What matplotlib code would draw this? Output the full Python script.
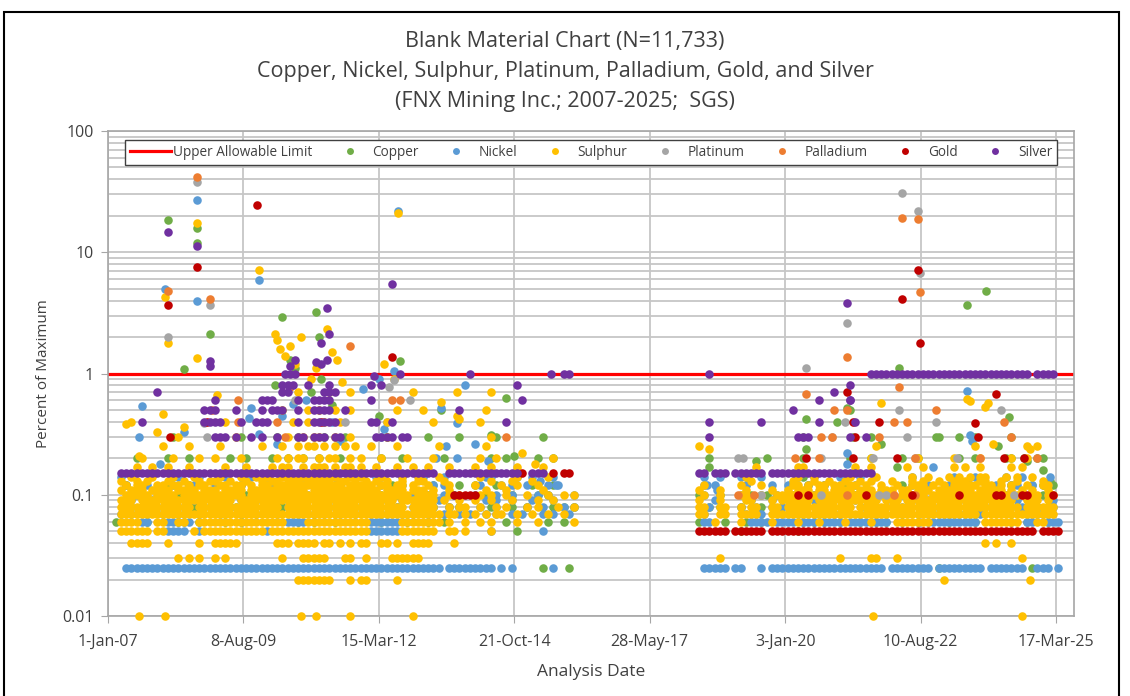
import matplotlib
matplotlib.use("Agg")
import matplotlib.pyplot as plt
import matplotlib.dates as mdates
from matplotlib.ticker import FixedLocator, LogLocator, NullFormatter, FuncFormatter
from matplotlib.lines import Line2D
from matplotlib.patches import Rectangle
from datetime import datetime

plt.rcParams['font.family'] = ['Open Sans', 'DejaVu Sans']

# ---------------------------------------------------------------
# Data.
# Rows: one string per reported value; every group of 10 characters
# is one year (tenths of a year), "@YYYY" jumps to that year,
# any character other than "." marks a result in that tenth.
# Extras: single (year, percent) results.
# ---------------------------------------------------------------

upper_limit = 1.0

copper_levels = [0.025, 0.05, 0.06, 0.08, 0.1, 0.12, 0.2, 0.3]
copper_rows = [
    "@2015 ...x....x. @2022 .........x .......... .......x..",
    "@2014 ........x. @2019 .x........ ..x.......",
    "@2007 .x.....x.. ...x...x.. ..x..x.... ......x..x ...x...... ..x....x.. .x..x..... ......x... ....x..x.. @2018 ...x....x. ..x..x.... ...x.x.x.. x...x..x.x ..x..x.... .x....x... ...x..x... x",
    "@2007 ....x..x.. ..x...x... .x..x..... ...x..x... x....x..x. .x...x.... ..x..x.x.. ...x...x.. x....x.x.x @2018 .....x.x.. .x...x.... ..x....x.. .x...x.x.. ...x...x.. ..x...x... .x..x...x. x",
    "@2007 ......x... x..x...... ...x..x... .x...x.x.. ..x.x..... ..x..x.... .x....x... ..x....x.. ..x.x..... @2018 ...x...x.. ...x..x... .x...x.... ...x..x... x...x..... ....x..x.. ..x..x...x x",
    "@2007 ...x...... .x...x.... .....x.... ..x...x... .x..x....x ....x..... ..x....x.. x...x..... .x...x.... @2018 .......... ..x....... ....x..x.. .x........ ..x...x... ...x...... ...x...x.x x",
    "@2007 .....x.... .x...x.... ...x..x... .x..x..x.. x...x..... ..x...x... ....x..... ...x..x... ..x..x.... @2018 .....x.... ......x... ...x...... ..x...x... ..x..x.... ...x..x... ..xx....xx",
    "@2007 .......... ..x....... .....x.... ..x...x... .x...x.... ...x...... .x.....x.. ....x..... ...x...... @2018 .......... .......... ...x...... ......x... .........x ...x..x... ...x......",
]
copper_extra = [
    (2008.15, 18.4), (2008.7, 16), (2008.7, 11.9), (2008.95, 2.1), (2008.45, 1.08),
    (2010.35, 2.95), (2011.0, 3.2), (2011.05, 2.0), (2012.6, 1.26), (2010.6, 1.1),
    (2010.2, 0.8), (2011.1, 0.9), (2013.4, 0.5), (2014.65, 0.63), (2014.35, 0.31),
    (2014.8, 0.21), (2022.2, 1.12), (2023.5, 3.7), (2023.87, 4.8), (2021.2, 0.52),
    (2021.25, 0.5), (2020.4, 0.42), (2020.4, 0.24), (2021.0, 0.4), (2021.3, 0.3),
    (2021.85, 0.26), (2022.9, 0.3), (2024.3, 0.44), (2024.1, 0.25), (2025.1, 0.13),
    (2025.15, 0.12), (2024.95, 0.16), (2018.55, 0.17), (2019.45, 0.19), (2020.3, 0.15),
    (2020.35, 0.14), (2022.15, 0.17), (2024.6, 0.2), (2024.65, 0.19), (2010.5, 1.3),
    (2010.9, 0.7), (2011.3, 0.55), (2012.2, 0.45),
]

nickel_levels = [0.025, 0.05, 0.06, 0.07, 0.08, 0.09, 0.1, 0.12, 0.14]
nickel_rows = [
    "@2007 ...xxxxxxx xxxxxxxxxx xxxxxxxxxx xxxxxxxxxx xxxxxxxxxx xxxxxxxxxx xxxx.xxxxx xxxx.x.x.. .....x.... @2018 ....xxxxx. xx...x.xxx xxxxxxxxxx xxxxxxxxx. xxxxxxxx.x xxxxxxxx.x xxxxxx..xx x.x",
    "@2007 .......... .xxxx..x.. .......... x......... .......... xxxxxx.... @2014 ...x...... ...x......",
    "@2007 ......xx.. .xx.xx.... .......... ....xxxx.. .......... xxxxxx.... @2018 ....xx.... ...xxxx.xx xx.xxx.xxx x.xxxxxxxx .......xxx xxxxxxx... ......xx.. xxx",
    "@2007 ..x.x..x.. x..x...x.. .x...x..x. ..x..x...x .x..x..x.. x..x..x.x. .x..x..x.x ..x.x..x.x ...x.x..x. @2018 ....x..... ..xxxx.... ..x...x..x x...x..x.. .........x xxxxxxxx.. .......xxx x",
    "@2007 ...x..x..x .x..x...x. x..x..x... .x..x..x.. x..x..x..x .x...x..x. ..x..x.x.. .x..x..... x..x...x.x @2018 .....x.... .x..x..x.x ...x...x.. .x...x...x ..x.....x. .xx..x..x. ..x..x..x. .x",
    "@2007 ....x...x. ..x...x... .x...x..x. x...x..... ..x...x..x ...x..x... x..x...... ..x.x..x.. .x...x.... @2018 ......x... ...x...x.. .x...x..x. ...x..x... x...x..x.. ...x..x... x...x..x.. .x",
    "@2007 .....x.... x....x...x ..x....x.. ..x..x..x. .x...x.... x...x...x. .x..x.x... x...x..x.. ..x.x....x @2018 ....x..... .x...x..x. ..x..x...x .x...x.... ..x..x.... x..x...x.. ..x..x.x.. x",
    "@2007 ...x...x.. ..x...x... x....x.... .x..x..x.. x..x...x.. ..x...x... ..x.x..... .x...x.x.. x...x.x... @2018 ....x.x... ..x....x.. x...x..x.. ...x...... ....x..x.. .x...x.... x..xx..x.. x",
    "@2007 ..x....... ...x...x.. ..x....x.. x...x...x. ...x...x.. .x....x... x...x..... ..xx....x. .x...x.... @2018 ....x..x.. .x...x.... ..x..x.... x...x..... ....x..... ..x...x... ..x..x....",
]
nickel_extra = [
    (2008.1, 5.0), (2008.7, 27), (2008.7, 4.0), (2009.9, 5.9), (2012.57, 21.8),
    (2007.6, 0.3), (2007.65, 0.54), (2008.45, 0.33), (2008.0, 0.18), (2009.7, 0.43),
    (2009.75, 0.52), (2009.9, 0.32), (2010.25, 0.26), (2010.55, 0.56), (2011.3, 0.4),
    (2011.45, 0.28), (2012.3, 0.35), (2012.35, 0.4), (2012.25, 0.3), (2013.3, 0.2),
    (2013.4, 0.52), (2013.5, 0.25), (2013.7, 0.39), (2013.7, 0.2), (2014.05, 0.26),
    (2014.3, 0.19), (2015.3, 0.13), (2015.6, 0.12), (2018.5, 0.12), (2018.7, 0.11),
    (2021.2, 0.22), (2021.2, 0.18), (2022.85, 0.17), (2023.5, 0.72), (2023.55, 0.31),
    (2023.6, 0.28), (2023.55, 0.12), (2025.1, 0.14), (2010.35, 0.45), (2010.8, 0.6),
    (2011.9, 0.75), (2012.2, 0.9), (2013.85, 0.8), (2012.5, 1.05),
]

sulphur_levels = [0.02, 0.03, 0.04, 0.05, 0.06, 0.07, 0.08, 0.09, 0.1, 0.11,
                  0.12, 0.13, 0.14, 0.17, 0.2, 0.25, 0.3, 0.4, 0.5, 0.7]
sulphur_rows = [
    "@2010 ......xxxx xxx...x.xx .....x....",
    "@2008 ...x.x.x.. x.x....... ...x...xxx xx...xx..x ....xxxxxx @2018 .......x.. .......... .......... x.....xx.. .x........ .......... .....x....",
    "@2007 ....xxxx.. .x.....x.. xxxxx..... ..xxx.xxxx .xx.x.x.xx ..xx.x..xx xx....x... @2023 ........x. x..x......",
    "@2007 ..xxxxxx.x x.....x.xx xxxxxxxxxx .xxxxxxxxx xxxxxxxxxx ......xxxx xxx..xx.x. ...x......",
    "@2007 ..xxxx...x x..xx..xxx xxxxxxxxxx xxxx....xx xxxxxxxxxx ......xxxx xxxx.x..x. .x.x....x. ..x......x @2018 ......x... .x.....x.. ..x...x... .x....x... .xxxxxxx.. ........xx xxxxx...xx",
    "@2007 ..xxxxxxxx xxxxxxxxxx xxxxxxxxxx xxxxxxxxxx xxxxxxxxxx xxxxxxxxxx xxxx.xx.x. x.x.xx..x. .x..x..x.. @2018 ...xx..xx. .xxxx..xxx xxxxxxxxxx xxxxxxxxxx xxxxxxxxxx xxxxxxx.xx xxxxxxxxxx xx",
    "@2007 ..xxxxxxxx xxxxxx.xxx xxxxxxxxxx xxx.xxxxxx xxxxxxxxxx xxxxxxx.xx xxx..x.xx. .x..x.x... x.x...x..x @2018 ...xx..xx. .x.xx..xx. xxxxxxxxxx xxx.xxxxxx xxxxxxxxxx xxxxxxxxxx xxxxx.xxxx xx",
    "@2007 ..xxx.xxxx xxxxxxxxxx xxxx.xxxxx xxxxxxxxxx xxxxxxxxxx xxxxx.xxxx xxx.x..x.. x..x...x.. ..x..x.... @2018 ...x...x.. ..xx...x.x xxxxx.xxxx xxxxxxxx.x xx.xxxxxxx xxxxxxxxxx xxxx..xxx. x",
    "@2007 ...xxxxx.x xxx.xxxxxx xxxxxx.xxx xxxxxxxxxx xxxxxxxxxx xxxxxxxx.x xxx..x.x.. .x.x..x... x...x..x.x @2018 ....x..x.. .xx..x..xx xx.xxxxxxx xxxxx.xxxx x.xxxxx.xx xxx.xxxxxx x.xxxx.xx. xx",
    "@2007 ..x.xxx.xx xx.xxxx.xx x.xxxx.xxx xxxxxxxx.x xxxxxxxxxx xx.xxxx.xx x.x..x.... ..x...x... ...x...... @2018 ...x...x.. ..x....x.. x.xxx.xx.x xxx.xxx.xx x.xx.xxx.x xxxxxx.xxx xx.x.x.x.. x",
    "@2007 ...x.xx..x x.xx.x.xx. .xx.xx.x.x x.xxxxxxxx xxxxx.xxxx x.xx.xx.x. .x...x.... x....x..x. ..x....... @2018 ....x..... .x...x.... .xx.x.xx.x x.xx.x..x. .x..xxx.x. x.xxxxx.xx .x.x..x..x x",
    "@2007 ..x..x.x.. .x..x..x.x x..x..x..x .xx.xxx.xx xxx.xx.x.x .x.x..x..x x...x..... ...x...x.. .x........ @2018 .......... ...x...... .x...x..x. .x..x.x... x...x.x..x ..xxx..xx. .x..x....x",
    "@2007 ....x...x. ..x...x... .x...x..x. x..xx.xx.x x.xx..x.x. ..x...x..x ...x...... .x......x. ....x..... @2018 .......... ..x....... ..x..x.... ..x....x.. ....x..x.. .x.x.x.xx. ..x.x..x..",
    "@2007 .....x..x. .x...x.... ..x...x... .x.xx..x.x xx.x.xx.x. .x...x..x. .x...x.... x..x....x. ...x...... @2018 .......... ....x..... ..xx...... ...x..x... ...x..x... ..x.x..x.. ...x.x....",
    "@2007 ......x... ..x....x.. x....x.... ..x.x.xx.. x.xx..x.x. ..x....x.. ..x....... .x..x..... .....x.... @2018 .......... .......... .......... ......x... .....x.... ..x....x.. ...x..x...",
    "@2007 .......... x....x.... .x.......x ...x..x.xx .x.x.x.x.. x....x.... ...x...... ..x....... @2018 ...x...... .......... .......... .......x.. .......... ......x... ......x.x.",
    "@2007 .......... ...x...... ....x..... ....x..x.x x..x..x... ...x...... .......... ...x......",
    "@2007 ....x..... .......... ..x....... .....x..x. .x..x..... ...x...... ..x....... .x........",
    "@2010 ...x....x. x..x..x... .....x.... x......... ..x.......",
    "@2010 ......x... ..x...x... ........x. .......... ...x......",
]
sulphur_extra = [
    (2007.6, 0.01), (2008.1, 0.01), (2010.7, 0.01), (2011.0, 0.01), (2011.65, 0.01),
    (2012.85, 0.01), (2021.7, 0.01), (2024.55, 0.01), (2023.05, 0.02), (2024.7, 0.02),
    (2008.1, 4.3), (2008.15, 1.8), (2008.7, 17.4), (2008.7, 1.33), (2009.9, 7.1),
    (2012.57, 21), (2012.3, 1.19), (2010.2, 2.1), (2010.25, 1.9), (2010.3, 1.6),
    (2010.4, 1.4), (2010.5, 1.7), (2010.6, 1.2), (2010.7, 2.0), (2011.3, 1.5),
    (2011.4, 1.3), (2011.2, 2.35), (2011.0, 1.1), (2010.9, 0.9), (2011.5, 0.85),
    (2012.5, 0.9), (2013.4, 0.58), (2013.7, 0.7), (2013.7, 0.45), (2013.75, 0.42),
    (2007.35, 0.38), (2008.05, 0.46), (2009.1, 0.66), (2008.45, 0.36), (2007.95, 0.33),
    (2007.6, 0.21), (2018.55, 0.24), (2021.85, 0.57), (2023.5, 0.62), (2023.55, 0.59),
    (2023.85, 0.53), (2023.9, 0.57), (2024.0, 0.26), (2024.7, 0.24), (2014.95, 0.22),
    (2015.2, 0.18),
]

platinum_extra = [
    (2008.15, 2.0), (2008.7, 38), (2008.95, 3.7), (2008.85, 0.39), (2008.9, 0.3),
    (2010.6, 0.6), (2011.55, 0.4), (2012.5, 0.89), (2012.4, 0.78), (2012.8, 0.6),
    (2019.1, 0.2), (2019.2, 0.2), (2019.55, 0.1), (2020.4, 1.1), (2020.7, 0.1),
    (2020.7, 0.2), (2020.9, 0.3), (2021.15, 0.4), (2021.2, 2.6), (2021.7, 0.2),
    (2021.8, 0.1), (2021.95, 0.1), (2022.24, 31), (2022.55, 22), (2022.6, 6.8),
    (2022.2, 0.5), (2022.35, 0.3), (2022.5, 0.2), (2022.9, 0.4), (2023.3, 0.2),
    (2024.15, 0.5), (2024.4, 0.1),
]

palladium_extra = [
    (2008.15, 4.8), (2008.7, 42), (2008.95, 4.1), (2009.0, 0.5), (2009.5, 0.61),
    (2009.5, 0.4), (2010.25, 0.4), (2010.4, 0.3), (2010.5, 0.78), (2011.65, 1.67),
    (2012.45, 0.6), (2012.6, 0.6), (2014.65, 0.3), (2019.1, 0.1), (2019.4, 0.1),
    (2020.2, 0.2), (2020.4, 0.68), (2020.65, 0.2), (2020.7, 0.3), (2020.9, 0.3),
    (2020.95, 0.5), (2021.2, 1.36), (2021.2, 0.5), (2021.2, 0.1), (2021.8, 0.3),
    (2022.1, 0.4), (2022.1, 0.1), (2022.2, 0.78), (2022.24, 19), (2022.35, 0.4),
    (2022.5, 0.2), (2022.5, 0.1), (2022.55, 18.8), (2022.6, 4.7), (2022.9, 0.5),
    (2023.75, 0.2), (2024.2, 0.4), (2024.35, 0.3), (2024.85, 0.2),
]

gold_levels = [0.05, 0.1, 0.15]
gold_rows = [
    "@2018 ...xxxxxx. xxxxxx.xxx xxxxxxxxxx xxxxxxxxxx xxxxxxxxxx xxxxxxxxxx xxxxxxxx.x xxx",
    "@2013 ......xxxx x......... @2020 ..x.x..... .....x.... ....x..... ...x...... xx...xx... .x",
    "@2014 .........x .....x.xx.",
]
gold_extra = [
    (2008.15, 3.7), (2008.7, 7.5), (2009.87, 24.5), (2012.45, 1.36), (2008.2, 0.3),
    (2008.9, 0.4), (2011.1, 0.4), (2020.4, 0.2), (2021.2, 0.7), (2021.3, 0.4),
    (2021.35, 0.3), (2021.3, 0.2), (2021.8, 0.4), (2022.15, 0.2), (2022.24, 4.1),
    (2022.55, 7.2), (2022.6, 1.8), (2023.65, 0.39), (2023.7, 0.3), (2024.05, 0.68),
    (2024.2, 0.2), (2024.6, 0.2),
]

silver_levels = [0.15, 1.0, 0.3, 0.4, 0.5, 0.6, 0.7, 0.8]
silver_rows = [
    "@2007 ..xxxxxxxx xxxxxxxxxx xxxxxxxxxx xxxxxxxxxx xxxxxxxxxx xxxxxxxxxx xxx..xxxxx xxxxxxxxx. .xxx...... @2018 ...xx.xxx. xxxxxx.xxx xxxxxxxxxx xxxxxxx...",
    "@2018 .....x.... @2021 ......xxxx xxxxxxxxxx xxxxxxxxxx xxxxxxx.xx xx",
    "@2009 xxx.x..x.x ..x...xx.x xx.xx..... .xxxx.xx.. @2018 .....x.... @2020 ..xxx..... ..x..x....",
    "@2007 ......x... ........xx xx...x..xx x.....x..x xxxx...... xx..x..... .......... ......x... @2018 .....x.... .....x.... ......x... ...x......",
    "@2008 ........xx x...x....x .xxx..x..x xxx..x.... .......... .......x.. @2020 .x........",
    "@2009 x........x xx....x..x xxx....... x......... .......... .........x @2020 ......x... ..x.......",
    "@2007 .........x .......... .......... ...xx..... .xxx...... @2020 .........x",
    "@2010 ...xxx..x. ..x....... x.x....... .......... ........x. @2021 ..x.......",
]
silver_extra = [
    (2008.15, 14.6), (2008.7, 11.2), (2008.95, 1.28), (2008.95, 1.15), (2011.2, 3.5),
    (2012.45, 5.5), (2012.6, 1.0), (2011.25, 2.1), (2011.1, 1.8), (2011.2, 1.3),
    (2011.1, 1.2), (2011.0, 1.25), (2010.4, 1.0), (2010.5, 1.0), (2010.6, 1.0),
    (2010.5, 1.15), (2010.6, 1.3), (2012.1, 0.95), (2013.95, 1.0), (2015.5, 1.0),
    (2015.75, 1.0), (2015.85, 1.0), (2021.2, 3.8), (2021.25, 0.6),
]

# ---------------------------------------------------------------
base = mdates.date2num(datetime(2007, 1, 1))


def years_from(pattern):
    out = []
    year = 2007
    for tok in pattern.split():
        if tok.startswith("@"):
            year = int(tok[1:])
            continue
        for j, c in enumerate(tok[:10]):
            if c != ".":
                out.append(year + j / 10 + 0.05)
        year += 1
    return out


def to_num(yrs):
    return [base + (y - 2007) * 365.25 for y in yrs]


def points(levels, rows, extra):
    xs, ys = [], []
    for lv, row in zip(levels, rows):
        yrs = years_from(row)
        xs += yrs
        ys += [lv] * len(yrs)
    xs += [e[0] for e in extra]
    ys += [e[1] for e in extra]
    return to_num(xs), ys


series = [
    ("Copper", "#70AD47", points(copper_levels, copper_rows, copper_extra)),
    ("Nickel", "#5B9BD5", points(nickel_levels, nickel_rows, nickel_extra)),
    ("Sulphur", "#FFC000", points(sulphur_levels, sulphur_rows, sulphur_extra)),
    ("Platinum", "#A5A5A5", points([], [], platinum_extra)),
    ("Palladium", "#ED7D31", points([], [], palladium_extra)),
    ("Gold", "#C00000", points(gold_levels, gold_rows, gold_extra)),
    ("Silver", "#7030A0", points(silver_levels, silver_rows, silver_extra)),
]

txt = "#404040"
grid = "#C6C6C6"

fig = plt.figure(figsize=(11.3, 6.96), dpi=100)
ax = fig.add_axes([108 / 1130, 1 - 616 / 696, 966 / 1130, 485 / 696])

xmin, xmax = base, base + 6776
ax.plot([xmin, xmax], [upper_limit, upper_limit], color="#FF0000", lw=2.3, zorder=2)

for i, (name, col, (xs, ys)) in enumerate(series):
    ax.scatter(xs, ys, s=38, color=col, linewidths=0, zorder=3 + i, clip_on=False)

ax.set_yscale("log")
ax.set_ylim(0.01, 100)
ax.set_xlim(xmin, xmax)

ax.yaxis.set_major_locator(FixedLocator([0.01, 0.1, 1, 10, 100]))
ax.yaxis.set_major_formatter(FuncFormatter(lambda v, p: "%g" % v))
ax.yaxis.set_minor_locator(LogLocator(base=10, subs=range(2, 10)))
ax.yaxis.set_minor_formatter(NullFormatter())

ax.xaxis.set_major_locator(FixedLocator([base + 950 * k for k in range(8)]))
ax.xaxis.set_major_formatter(mdates.DateFormatter("%-d-%b-%y"))

ax.grid(True, which="major", axis="both", color=grid, lw=1.3, zorder=0)
ax.grid(True, which="minor", axis="y", color=grid, lw=1.3, zorder=0)
ax.set_axisbelow(True)

for sp in ax.spines.values():
    sp.set_color("#A6A6A6")
    sp.set_linewidth(1.2)

ax.tick_params(axis="both", which="major", length=5, color="#A6A6A6",
               labelsize=11.5, labelcolor=txt, pad=5)
ax.tick_params(axis="x", which="major", pad=8)
ax.tick_params(axis="y", which="minor", length=0)

ax.set_xlabel("Analysis Date", fontsize=12.5, color=txt, labelpad=10)
ax.set_ylabel("Percent of Maximum", fontsize=11, color=txt, labelpad=8)

handles = [Line2D([], [], color="#FF0000", lw=2.3)]
labels = ["Upper Allowable Limit"]
for name, col, _ in series:
    handles.append(Line2D([], [], ls="none", marker="o", ms=5, color=col, mew=0))
    labels.append(name)
leg = ax.legend(handles, labels, ncol=8, mode="expand", loc="lower left",
                bbox_to_anchor=(17 / 966, 451 / 485, 932 / 966, 26 / 485),
                borderaxespad=0, fontsize=9.8, handlelength=3.0, handletextpad=0.15,
                columnspacing=0.5, fancybox=False, framealpha=1, borderpad=0.35)
leg.get_frame().set_edgecolor("#404040")
leg.get_frame().set_linewidth(1.0)
leg.set_zorder(20)
for t in leg.get_texts():
    t.set_color(txt)

fig.text(0.5, 1 - 42 / 696, "Blank Material Chart (N=11,733)", ha="center", va="center",
         fontsize=15.5, color=txt)
fig.text(0.5, 1 - 72 / 696, "Copper, Nickel, Sulphur, Platinum, Palladium, Gold, and Silver",
         ha="center", va="center", fontsize=15.5, color=txt)
fig.text(0.5, 1 - 102 / 696, "(FNX Mining Inc.; 2007-2025;  SGS)", ha="center", va="center",
         fontsize=15.5, color=txt)

fig.patches.append(Rectangle((4 / 1130, -0.05), 1115 / 1130, 1.05 - 12 / 696,
                             transform=fig.transFigure, fill=False, edgecolor="black",
                             lw=1.5, zorder=30))

fig.savefig("out.png", dpi=100)
